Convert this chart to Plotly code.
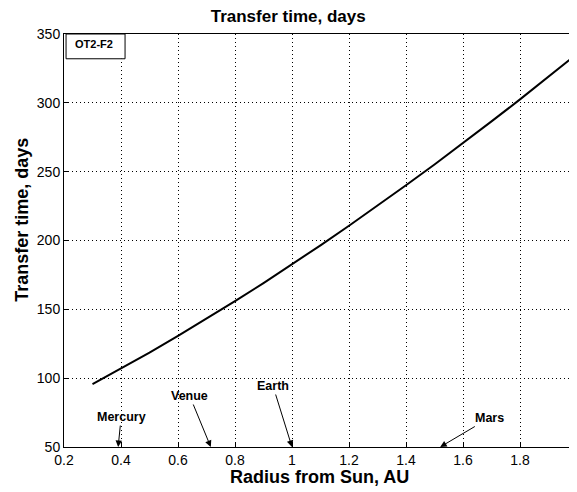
import plotly.graph_objects as go

# Data
radius_au = [0.3, 0.4, 0.5, 0.6, 0.7, 0.8, 0.9, 1.0, 1.1, 1.2, 1.3, 1.4, 1.5, 1.6, 1.7, 1.8, 1.9, 2.0]
transfer_days = [95.7, 107.0, 118.6, 130.7, 143.1, 155.9, 169.1, 182.6, 196.5, 210.7,
                 225.2, 240.1, 255.2, 270.7, 286.5, 302.5, 318.9, 335.5]

planet_names = ["Mercury", "Venue", "Earth", "Mars"]
planet_radius = [0.39, 0.715, 1.0, 1.52]
planet_y = [50, 50, 50, 50]
label_dx = [3, -21, -19, 49]
label_dy = [-30, -51, -61, -29]

x_ticks = [0.2, 0.4, 0.6, 0.8, 1.0, 1.2, 1.4, 1.6, 1.8, 2.0]
x_tick_text = ["0.2", "0.4", "0.6", "0.8", "1", "1.2", "1.4", "1.6", "1.8", "2"]
y_ticks = [50, 100, 150, 200, 250, 300, 350]

FONT = "Liberation Sans, Arial, sans-serif"

# the page body has an 8px margin, so the figure is sized to end at the window edge
W, H = 569, 484
L, T, B = 56, 26, 45

fig = go.Figure()
fig.add_trace(go.Scatter(x=radius_au, y=transfer_days, mode="lines",
                         line=dict(color="black", width=2), showlegend=False,
                         hoverinfo="skip", cliponaxis=False))

for name, px, py, dx, dy in zip(planet_names, planet_radius, planet_y, label_dx, label_dy):
    fig.add_annotation(x=px, y=py, xref="x", yref="y", ax=dx, ay=dy,
                       text="<b>%s</b>" % name, showarrow=True,
                       arrowhead=2, arrowsize=1.3, arrowwidth=1, arrowcolor="black",
                       font=dict(family=FONT, size=12.5, color="black"), standoff=0)

# label box in upper-left corner
fig.add_shape(type="rect", xref="paper", yref="paper", x0=0.004, x1=0.119, y0=0.94, y1=1.0,
              line=dict(color="black", width=1), fillcolor="white", layer="above")
fig.add_annotation(xref="paper", yref="paper", x=0.0175, y=0.976, xanchor="left", yanchor="middle",
                   text="<b>OT2-F2</b>", showarrow=False,
                   font=dict(family=FONT, size=11, color="black"))

# axis titles
fig.add_annotation(xref="paper", yref="paper", x=0.499, y=-0.073, xanchor="center", yanchor="middle",
                   text="<b>Radius from Sun, AU</b>", showarrow=False,
                   font=dict(family=FONT, size=18, color="black"))
fig.add_annotation(xref="paper", yref="paper", x=-0.082, y=0.55, xanchor="center", yanchor="middle",
                   text="<b>Transfer time, days</b>", showarrow=False, textangle=-90,
                   font=dict(family=FONT, size=18, color="black"))

fig.update_layout(
    width=W, height=H,
    margin=dict(l=L, r=0, t=T, b=B, autoexpand=False),
    paper_bgcolor="white", plot_bgcolor="white",
    title=dict(text="<b>Transfer time, days</b>", x=0.437, xref="paper",
               y=1 - 8 / H, yref="container", yanchor="middle", xanchor="center",
               font=dict(family=FONT, size=17, color="black")),
    font=dict(family=FONT, size=14, color="black"),
    xaxis=dict(range=[0.2, 2.0], tickvals=x_ticks, ticktext=x_tick_text,
               ticklabeloverflow="allow",
               showgrid=True, gridcolor="black", griddash="1px,3px", gridwidth=1,
               showline=True, linecolor="black", linewidth=1, mirror=True,
               ticks="inside", ticklen=4, tickcolor="black", zeroline=False,
               tickfont=dict(family=FONT, size=14, color="black")),
    yaxis=dict(range=[50, 350], tickvals=y_ticks,
               ticklabeloverflow="allow",
               showgrid=True, gridcolor="black", griddash="1px,3px", gridwidth=1,
               showline=True, linecolor="black", linewidth=1,
               ticks="inside", ticklen=4, tickcolor="black", zeroline=False,
               tickfont=dict(family=FONT, size=14, color="black")),
)

fig.write_html("out.html")
